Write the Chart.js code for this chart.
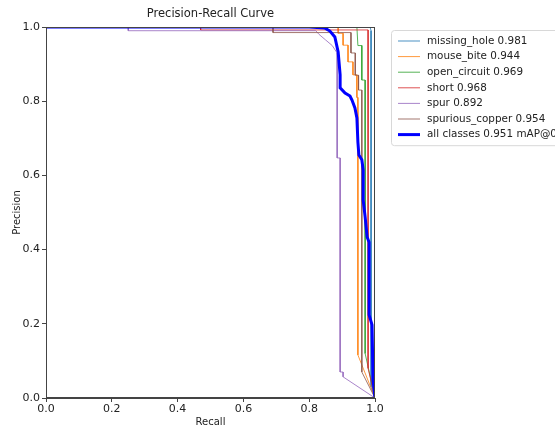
<!DOCTYPE html>
<html>
<head>
<meta charset="utf-8">
<script src="https://cdn.jsdelivr.net/npm/chart.js@4.4.0/dist/chart.umd.min.js"></script>
<style>
  html, body { margin: 0; padding: 0; background: #fff; }
</style>
</head>
<body>
<canvas id="prCurve" width="555" height="428"></canvas>
<script>
// Nomes das classes (com AP) e valores: pares [recall, precision]
var classLabels = ['missing_hole 0.981', 'mouse_bite 0.944', 'open_circuit 0.969', 'short 0.968', 'spur 0.892', 'spurious_copper 0.954'];
var allLabel = 'all classes 0.951 mAP@0.5';

var missingHole = [[0, 1], [0.985, 1], [0.988, 0.99], [0.988, 0.03], [1, 0]];
var mouseBite = [[0, 1], [0.888, 1], [0.888, 0.983], [0.903, 0.983], [0.903, 0.951], [0.918, 0.951], [0.918, 0.906],
  [0.933, 0.906], [0.933, 0.871], [0.945, 0.871], [0.945, 0.81], [0.948, 0.81], [0.948, 0.116], [1, 0]];
var openCircuit = [[0, 1], [0.945, 1], [0.948, 0.95], [0.96, 0.95], [0.96, 0.857], [0.97, 0.857], [0.97, 0.12], [1, 0]];
var short = [[0, 1], [0.47, 1], [0.47, 0.992], [0.979, 0.992], [0.979, 0.08], [1, 0]];
var spur = [[0, 1], [0.25, 1], [0.25, 0.99], [0.82, 0.99], [0.83, 0.98], [0.85, 0.965], [0.87, 0.95], [0.885, 0.93],
  [0.885, 0.647], [0.894, 0.647], [0.894, 0.07], [0.903, 0.07], [0.903, 0.057], [1, 0]];
var spuriousCopper = [[0, 1], [0.69, 1], [0.69, 0.985], [0.927, 0.985], [0.927, 0.93], [0.94, 0.93], [0.94, 0.87],
  [0.95, 0.87], [0.95, 0.83], [0.96, 0.83], [0.96, 0.07], [1, 0]];
var allClasses = [[0, 1], [0.8, 1], [0.848, 0.997], [0.863, 0.989], [0.878, 0.973], [0.888, 0.933], [0.894, 0.871],
  [0.894, 0.836], [0.909, 0.822], [0.924, 0.814], [0.93, 0.803], [0.939, 0.782], [0.945, 0.755], [0.948, 0.69],
  [0.951, 0.655], [0.96, 0.642], [0.964, 0.615], [0.964, 0.534], [0.97, 0.488], [0.976, 0.434], [0.982, 0.42],
  [0.982, 0.291], [0.982, 0.224], [0.991, 0.197], [0.994, 0.049], [1, 0]];

var axisTicks = [0, 0.2, 0.4, 0.6, 0.8, 1.0];

var classCurves = [missingHole, mouseBite, openCircuit, short, spur, spuriousCopper];
var classColors = ['rgba(31,119,180,0.8)', 'rgba(255,127,14,0.8)', 'rgba(44,160,44,0.8)', 'rgba(214,39,40,0.8)',
  'rgba(148,103,189,0.8)', 'rgba(140,86,75,0.8)'];

function toPoints(arr) {
  return arr.map(function (p) { return { x: p[0], y: p[1] }; });
}

var datasets = classCurves.map(function (curve, i) {
  return {
    label: classLabels[i],
    data: toPoints(curve),
    borderColor: classColors[i],
    borderWidth: 1,
    order: 10 - i
  };
});
datasets.push({
  label: allLabel,
  data: toPoints(allClasses),
  borderColor: '#0000ff',
  borderWidth: 3,
  order: 0
});

var FONT = 'DejaVu Sans';

// Título, moldura e legenda desenhados à mão (estilo matplotlib)
var extras = {
  id: 'extras',
  afterDraw: function (chart) {
    var ctx = chart.ctx;
    var a = chart.chartArea;
    ctx.save();
    // moldura (spines)
    ctx.strokeStyle = '#444';
    ctx.lineWidth = 1;
    ctx.strokeRect(a.left + 0.5, a.top + 0.5, a.right - a.left - 1, a.bottom - a.top - 1);
    // título
    ctx.fillStyle = '#222';
    ctx.font = '11.5px "' + FONT + '"';
    ctx.textAlign = 'center';
    ctx.textBaseline = 'middle';
    ctx.fillText('Precision-Recall Curve', (a.left + a.right) / 2, 14);
    // legenda
    var lx = 391, ly = 30, row = 15.6;
    var n = chart.data.datasets.length;
    ctx.fillStyle = 'rgba(255,255,255,0.8)';
    ctx.strokeStyle = '#d8d8d8';
    ctx.beginPath();
    ctx.roundRect(lx + 0.5, ly + 0.5, 200, n * row + 6, 3);
    ctx.fill();
    ctx.stroke();
    ctx.font = '10.4px "' + FONT + '"';
    ctx.textAlign = 'left';
    chart.data.datasets.forEach(function (ds, i) {
      var y = ly + 11 + i * row;
      ctx.strokeStyle = ds.borderColor;
      ctx.lineWidth = ds.borderWidth;
      ctx.beginPath();
      ctx.moveTo(lx + 7, y);
      ctx.lineTo(lx + 29, y);
      ctx.stroke();
      ctx.fillStyle = '#222';
      ctx.fillText(ds.label, lx + 36, y);
    });
    ctx.restore();
  }
};

var ctx = document.getElementById('prCurve').getContext('2d');

var grafico = new Chart(ctx, {
  type: 'scatter',
  data: { datasets: datasets },
  options: {
    responsive: false,
    animation: false,
    showLine: true,
    elements: { point: { radius: 0, hoverRadius: 0 }, line: { tension: 0, fill: false } },
    layout: { padding: { left: 0, top: 27, right: 180, bottom: 0 } },
    plugins: { legend: { display: false }, tooltip: { enabled: false } },
    scales: {
      x: {
        type: 'linear', min: 0, max: 1,
        afterBuildTicks: function (s) { s.ticks = axisTicks.map(function (v) { return { value: v }; }); },
        afterFit: function (s) { s.height = 30; },
        ticks: { color: '#222', font: { family: FONT, size: 11 }, padding: 1, maxRotation: 0,
          callback: function (v) { return v.toFixed(1); } },
        grid: { display: true, drawOnChartArea: false, drawTicks: true, tickLength: 4, color: '#444' },
        border: { display: true, color: '#444' },
        title: { display: true, text: 'Recall', color: '#222', font: { family: FONT, size: 10 }, padding: { top: 0, bottom: 0 } }
      },
      y: {
        type: 'linear', min: 0, max: 1,
        afterBuildTicks: function (s) { s.ticks = axisTicks.map(function (v) { return { value: v }; }); },
        afterFit: function (s) { s.width = 46; },
        ticks: { color: '#222', font: { family: FONT, size: 11 }, padding: 2,
          callback: function (v) { return v.toFixed(1); } },
        grid: { display: true, drawOnChartArea: false, drawTicks: true, tickLength: 4, color: '#444' },
        border: { display: true, color: '#444' },
        title: { display: true, text: 'Precision', color: '#222', font: { family: FONT, size: 10 }, padding: { top: 11, bottom: 0 } }
      }
    }
  },
  plugins: [extras]
});
</script>
</body>
</html>
